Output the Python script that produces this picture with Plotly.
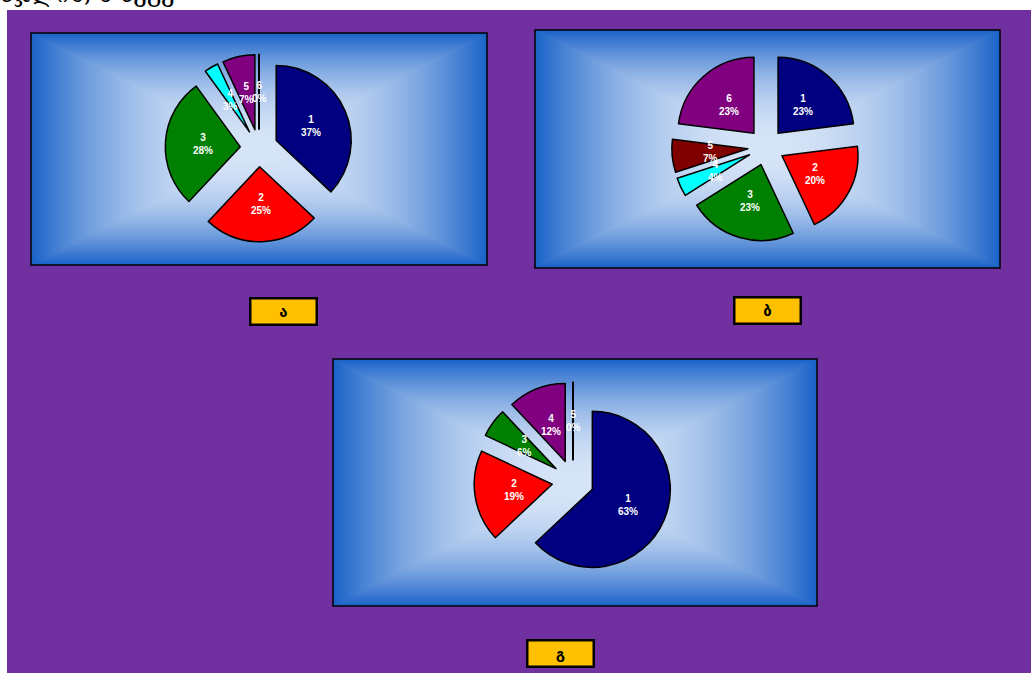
import base64
import math
import struct
import zlib

import numpy as np
import plotly.graph_objects as go

# ---- data -------------------------------------------------------------
labels_a = ["1", "2", "3", "4", "5", "6"]
values_a = [37, 25, 28, 3, 7, 0]
colors_a = ["#000080", "#FF0000", "#008000", "#00FFFF", "#800080", "#000000"]

labels_b = ["1", "2", "3", "4", "5", "6"]
values_b = [23, 20, 23, 4, 7, 23]
colors_b = ["#000080", "#FF0000", "#008000", "#00FFFF", "#800000", "#800080"]

labels_c = ["1", "2", "3", "4", "5"]
values_c = [63, 19, 6, 12, 0]
colors_c = ["#000080", "#FF0000", "#008000", "#800080", "#000000"]

panel_names = ["ა", "ბ", "გ"]
caption = "ნჯლის, ა ბეგე"

# ---- page geometry (pixels) --------------------------------------------
W, H = 1031, 673
PURPLE = "#7030A0"

panels = [
    # box (x0, y0, x1, y1), pie centre, base radius, pull, name box centre
    dict(box=(31, 33, 487, 265), c=(259, 148), r=75, pull=0.25, tag=(283.5, 311)),
    dict(box=(535, 30, 1000, 268), c=(766, 147), r=76, pull=0.24, tag=(767.5, 310.5)),
    dict(box=(333, 359, 817, 606), c=(573, 481), r=78, pull=0.27, tag=(560, 653.5)),
]
series = [
    (labels_a, values_a, colors_a),
    (labels_b, values_b, colors_b),
    (labels_c, values_c, colors_c),
]


def px(x):
    return x / W


def py(y):
    return 1 - y / H


def gradient_uri(w, h):
    """Rectangular 'from centre' gradient rendered into a PNG data URI."""
    centre = np.array([214, 228, 247], dtype=float)
    edge = np.array([26, 98, 200], dtype=float)
    u = np.abs(np.linspace(-1, 1, w))[None, :]
    v = np.abs(np.linspace(-1, 1, h))[:, None]
    t = np.maximum(u, v) ** 2.1
    rgb = centre * (1 - t[..., None]) + edge * t[..., None]
    img = rgb.round().clip(0, 255).astype(np.uint8)
    raw = b"".join(b"\x00" + img[y].tobytes() for y in range(h))

    def chunk(tag, data):
        body = tag + data
        return struct.pack(">I", len(data)) + body + struct.pack(">I", zlib.crc32(body) & 0xFFFFFFFF)

    png = (b"\x89PNG\r\n\x1a\n"
           + chunk(b"IHDR", struct.pack(">IIBBBBB", w, h, 8, 2, 0, 0, 0))
           + chunk(b"IDAT", zlib.compress(raw, 9))
           + chunk(b"IEND", b""))
    return "data:image/png;base64," + base64.b64encode(png).decode()


fig = go.Figure()
images, shapes, annotations = [], [], []

for p, (labs, vals, cols), name in zip(panels, series, panel_names):
    x0, y0, x1, y1 = p["box"]
    cx, cy = p["c"]
    r, pull = p["r"], p["pull"]
    half = r * (1 + pull)

    images.append(dict(
        source=gradient_uri(x1 - x0, y1 - y0), xref="paper", yref="paper",
        x=px(x0), y=py(y0), sizex=(x1 - x0) / W, sizey=(y1 - y0) / H,
        xanchor="left", yanchor="top", sizing="stretch", layer="below"))
    shapes.append(dict(type="rect", xref="paper", yref="paper",
                       x0=px(x0), x1=px(x1), y0=py(y1), y1=py(y0),
                       line=dict(color="black", width=1.5), fillcolor="rgba(0,0,0,0)",
                       layer="below"))

    fig.add_trace(go.Pie(
        labels=labs, values=vals, sort=False, direction="clockwise", rotation=0,
        pull=[pull] * len(vals), textinfo="none", hoverinfo="label+percent",
        showlegend=False,
        marker=dict(colors=cols, line=dict(color="black", width=1.5)),
        domain=dict(x=[px(cx - half), px(cx + half)], y=[py(cy + half), py(cy - half)]),
    ))

    # slice labels sit half a radius beyond each slice's pulled apex
    total = sum(vals)
    cum = 0
    for lab, v in zip(labs, vals):
        ang = 2 * math.pi * (cum + v / 2) / total
        cum += v
        d = r * (pull + 0.5)
        lx, ly = cx + d * math.sin(ang), cy - d * math.cos(ang)
        annotations.append(dict(
            x=px(lx), y=py(ly), xref="paper", yref="paper", showarrow=False,
            xanchor="center", yanchor="middle",
            text=f"{lab}<br>{round(100 * v / total)}%", align="center",
            font=dict(family="Liberation Sans, Arial", size=10, color="white", weight="bold")))
        if v == 0:
            # zero slice drawn as its single radial edge
            sx0, sy0 = cx + pull * r * math.sin(ang), cy - pull * r * math.cos(ang)
            sx1, sy1 = cx + (1 + pull) * r * math.sin(ang), cy - (1 + pull) * r * math.cos(ang)
            shapes.append(dict(type="line", xref="paper", yref="paper",
                               x0=px(sx0), y0=py(sy0), x1=px(sx1), y1=py(sy1),
                               line=dict(color="black", width=2)))

    tx, ty = p["tag"]
    annotations.append(dict(
        x=px(tx), y=py(ty), xref="paper", yref="paper", showarrow=False,
        xanchor="center", yanchor="middle",
        text=name, width=64, height=24, borderpad=0, borderwidth=2.5,
        bordercolor="black", bgcolor="#FFC000",
        font=dict(family="DejaVu Sans", size=15, color="black", weight="bold")))

# white strips around the purple page
shapes.append(dict(type="rect", xref="paper", yref="paper", x0=0, x1=1, y0=py(10), y1=1,
                   line=dict(width=0), fillcolor="white", layer="below"))
shapes.append(dict(type="rect", xref="paper", yref="paper", x0=0, x1=px(7), y0=0, y1=1,
                   line=dict(width=0), fillcolor="white", layer="below"))

annotations.append(dict(
    x=px(-2), y=py(-6), xref="paper", yref="paper", xanchor="left", yanchor="middle",
    showarrow=False, text=caption,
    font=dict(family="DejaVu Serif", size=24, color="black")))

fig.update_layout(
    width=W, height=H, margin=dict(l=0, r=0, t=0, b=0),
    paper_bgcolor=PURPLE, plot_bgcolor=PURPLE,
    images=images, shapes=shapes, annotations=annotations,
)

fig.write_html("out.html")
